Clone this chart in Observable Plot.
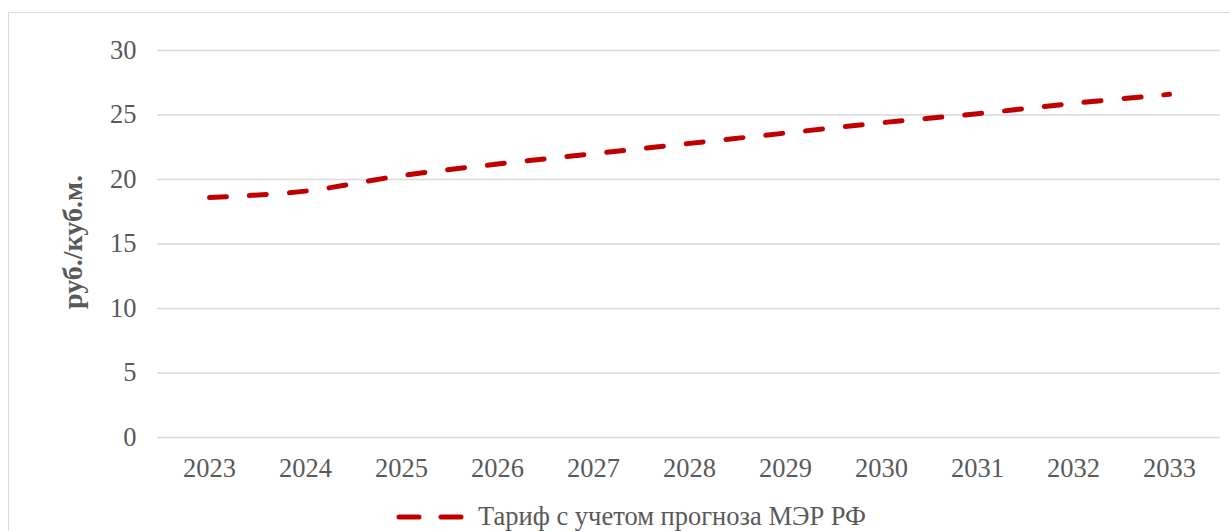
<!DOCTYPE html>
<html>
<head>
<meta charset="utf-8">
<script src="https://cdn.jsdelivr.net/npm/d3@7"></script>
<script src="https://cdn.jsdelivr.net/npm/@observablehq/plot@0.6"></script>
<style>
  html, body { margin: 0; padding: 0; background: #fff; overflow: hidden; }
  #wrap { position: relative; width: 1230px; height: 531px; overflow: hidden; font-family: "Liberation Serif", "Times New Roman", "DejaVu Serif", serif; }
  #frame { position: absolute; left: 8px; top: 12px; width: 1260px; height: 540px; border: 1px solid #d9d9d9; box-sizing: border-box; }
  #chart { position: absolute; left: 0; top: 0; }
  #legend { position: absolute; left: 0; top: 501px; width: 1262px; display: flex; justify-content: center; align-items: center; color: #595959; font-size: 26.5px; font-family: "Liberation Serif", "Times New Roman", serif; }
  #legend svg { margin-right: 14px; }
  #chart svg, #chart svg text { font-family: "Liberation Serif", "Times New Roman", "DejaVu Serif", serif !important; }
</style>
</head>
<body>
<div id="wrap">
  <div id="frame"></div>
  <div id="chart"></div>
  <div id="legend"></div>
</div>
<script>
const years = ["2023","2024","2025","2026","2027","2028","2029","2030","2031","2032","2033"];
const tariff = [18.6, 19.1, 20.3, 21.2, 22.0, 22.8, 23.6, 24.4, 25.1, 25.9, 26.6];
const yTicks = [0, 5, 10, 15, 20, 25, 30];
const seriesName = "Тариф с учетом прогноза МЭР РФ";
const yLabel = "руб./куб.м.";

const data = years.map((y, i) => ({year: y, value: tariff[i]}));
const lineColor = "#c00000";

const plot = Plot.plot({
  width: 1230,
  height: 500,
  marginLeft: 157,
  marginRight: 10,
  marginTop: 50,
  marginBottom: 63,
  style: { fontFamily: "'Liberation Serif', 'Times New Roman', serif", fontSize: "26.5px", color: "#595959", background: "transparent" },
  x: { type: "point", domain: years, padding: 0.5, label: null },
  y: { domain: [0, 30], ticks: yTicks, label: null },
  marks: [
    Plot.ruleY(yTicks, { stroke: "#d9d9d9", strokeWidth: 1.5 }),
    Plot.axisY({ ticks: yTicks, tickSize: 0, tickPadding: 21, fill: "#595959", fontSize: 26.5, label: null }),
    Plot.axisX({ tickSize: 0, tickPadding: 21, fill: "#595959", fontSize: 26.5, label: null }),
    Plot.text([yLabel], { frameAnchor: "left", textAnchor: "middle", lineAnchor: "middle", dx: -84, dy: -2, rotate: -90, fontWeight: "bold", fontSize: 28, fill: "#595959" }),
    Plot.line(data, { x: "year", y: "value", stroke: lineColor, strokeWidth: 5, strokeDasharray: "17,23", strokeLinecap: "round", curve: "catmull-rom" })
  ]
});
document.getElementById("chart").appendChild(plot);

const legend = document.getElementById("legend");
legend.innerHTML = `<svg width="68" height="12"><line x1="3" y1="6" x2="65" y2="6" stroke="${lineColor}" stroke-width="5" stroke-linecap="round" stroke-dasharray="20,22"/></svg><span>${seriesName}</span>`;
</script>
</body>
</html>
